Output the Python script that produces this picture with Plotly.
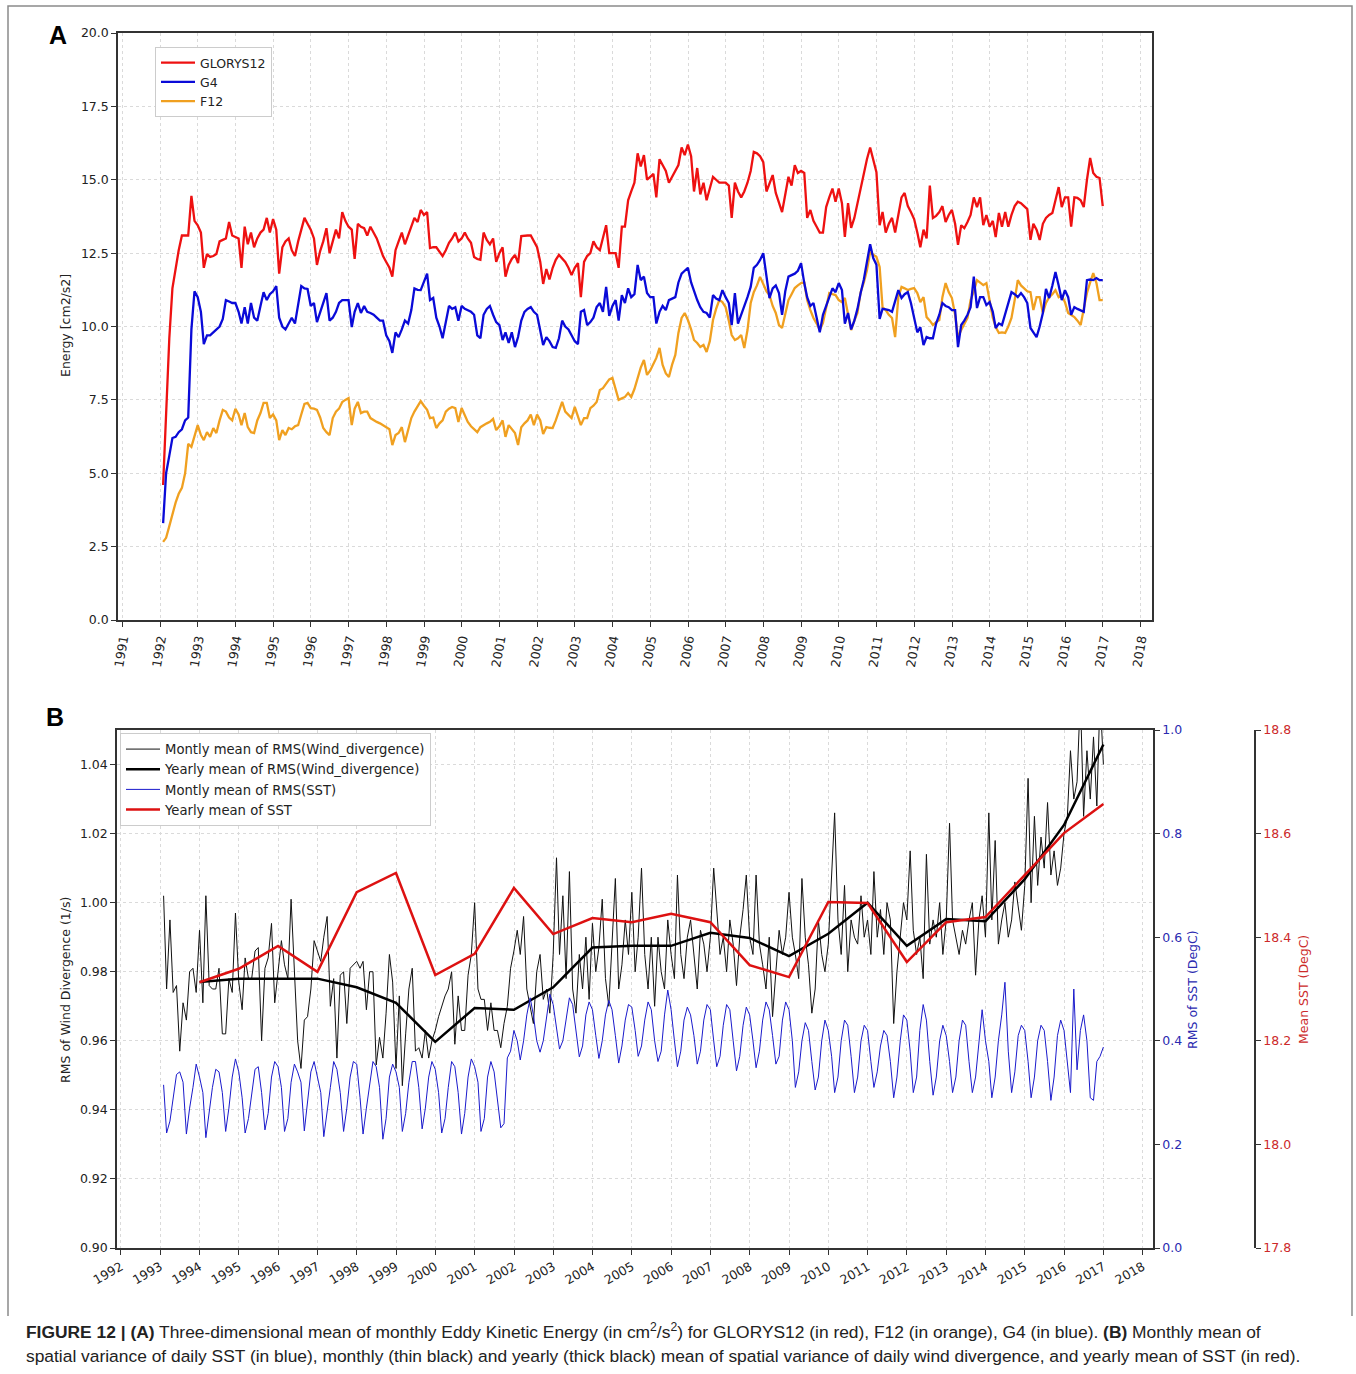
import pandas as pd
import plotly.graph_objects as go

W, H = 1356, 1374

# ---------------- Panel A: monthly Eddy Kinetic Energy (cm2/s2), Jan 1992 - Dec 2016
ekeglorys12 = [
    4.6, 7.0, 9.6, 11.3, 12.0, 12.6, 13.1, 13.1, 13.1, 14.45, 13.6, 13.45,
    13.2, 12.0, 12.47, 12.37, 12.4, 12.47, 12.9, 12.95, 13.0, 13.56, 13.1, 13.05,
    13.0, 12.0, 13.4, 12.8, 13.2, 12.7, 13.0, 13.2, 13.3, 13.7, 13.2, 13.66,
    13.3, 11.8, 12.7, 12.9, 13.0, 12.6, 12.4, 12.9, 13.3, 13.7, 13.5, 13.3,
    13.0, 12.1, 12.57, 12.9, 13.35, 12.5, 12.9, 13.3, 13.0, 13.9, 13.6, 13.4,
    13.3, 12.3, 13.5, 13.4, 13.35, 13.1, 13.4, 13.2, 13.0, 12.7, 12.4, 12.2,
    12.0, 11.7, 12.6, 12.9, 13.2, 12.8, 13.1, 13.46, 13.7, 13.56, 13.97, 13.8,
    13.9, 12.67, 12.7, 12.7, 12.55, 12.4, 12.6, 12.85, 13.0, 13.2, 12.9, 13.0,
    13.2, 13.0, 12.85, 12.37, 12.3, 12.27, 13.2, 12.95, 12.8, 13.0, 12.2, 12.5,
    12.7, 11.7, 12.1, 12.3, 12.44, 12.16, 13.08, 13.1, 13.1, 13.1, 12.9, 12.7,
    12.2, 11.45, 11.96, 11.6, 12.0, 12.27, 12.44, 12.3, 12.2, 12.0, 11.75, 12.0,
    12.16, 11.0, 12.2, 12.4, 12.5, 12.9, 12.7, 12.6, 13.0, 13.45, 12.5, 12.5,
    12.5, 12.0, 13.4, 13.4, 14.3, 14.6, 14.9, 15.9, 15.45, 15.84, 15.0, 15.1,
    15.2, 14.4, 15.7, 15.5, 15.3, 14.9, 15.1, 15.3, 15.5, 16.1, 15.84, 16.2,
    15.8, 14.6, 15.4, 14.5, 14.9, 14.3, 14.7, 15.1, 15.0, 14.9, 14.9, 14.9,
    14.8, 13.7, 14.9, 14.6, 14.4, 14.6, 14.9, 15.3, 15.95, 15.9, 15.8, 15.6,
    14.6, 14.9, 15.16, 14.55, 14.2, 13.9, 14.5, 15.1, 14.8, 15.5, 15.23, 15.3,
    15.23, 13.7, 13.97, 13.6, 13.4, 13.2, 13.2, 14.07, 14.4, 14.7, 14.25, 14.7,
    14.2, 13.05, 14.2, 13.36, 13.7, 14.2, 14.7, 15.2, 15.7, 16.1, 15.7, 15.26,
    13.45, 13.9, 13.2, 13.5, 13.7, 13.2, 13.8, 14.4, 14.55, 14.1, 13.9, 13.66,
    13.2, 12.7, 13.3, 13.0, 14.8, 13.7, 13.77, 13.9, 14.1, 13.56, 13.8, 13.97,
    13.5, 12.78, 13.45, 13.35, 13.56, 13.8, 14.4, 14.07, 14.4, 13.45, 13.8, 13.4,
    13.6, 13.05, 13.87, 13.4, 13.9, 13.4, 13.8, 14.1, 14.25, 14.2, 14.1, 14.0,
    12.95, 13.5, 13.3, 12.95, 13.5, 13.7, 13.8, 13.87, 14.3, 14.75, 14.07, 14.4,
    14.4, 13.4, 14.4, 14.38, 14.3, 14.07, 15.0, 15.74, 15.23, 15.1, 15.06, 14.1,
]

eke_g4 = [
    3.3, 5.0, 5.6, 6.2, 6.24, 6.4, 6.5, 6.8, 6.9, 9.9, 11.2, 11.0,
    10.5, 9.4, 9.7, 9.7, 9.8, 9.9, 10.0, 10.26, 10.9, 10.85, 10.8, 10.8,
    10.5, 10.1, 10.66, 10.1, 10.8, 10.3, 10.2, 10.7, 11.17, 10.9, 11.1, 11.2,
    11.38, 10.3, 10.0, 9.9, 10.1, 10.3, 10.1, 10.8, 11.38, 11.3, 11.28, 10.7,
    10.8, 10.15, 10.5, 10.8, 11.14, 10.2, 10.3, 10.5, 10.8, 10.9, 10.9, 10.9,
    9.98, 10.5, 10.8, 10.46, 10.7, 10.5, 10.46, 10.4, 10.3, 10.2, 10.2, 9.7,
    9.5, 9.1, 9.8, 9.64, 9.9, 10.2, 10.1, 10.56, 11.3, 11.25, 11.24, 11.5,
    11.8, 10.9, 10.97, 10.3, 10.0, 9.6, 10.2, 10.7, 10.6, 10.66, 10.2, 10.7,
    10.6, 10.56, 10.5, 10.4, 9.7, 9.6, 10.4, 10.6, 10.7, 10.4, 10.15, 10.05,
    9.54, 9.8, 9.44, 9.8, 9.3, 9.64, 10.2, 10.5, 10.6, 10.66, 10.5, 10.4,
    9.9, 9.37, 9.64, 9.5, 9.3, 9.27, 9.6, 10.2, 10.0, 9.9, 9.7, 9.5,
    9.4, 10.5, 10.56, 10.05, 10.15, 10.3, 10.66, 10.8, 10.5, 11.35, 10.36, 10.7,
    10.9, 10.2, 11.07, 10.8, 11.3, 11.0, 11.1, 12.1, 11.58, 11.7, 11.14, 11.0,
    11.0, 10.1, 10.5, 10.7, 10.56, 10.9, 10.95, 11.0, 11.5, 11.8, 11.9, 12.0,
    11.5, 11.2, 10.9, 10.66, 10.5, 10.46, 10.3, 11.07, 10.95, 10.9, 11.24, 11.0,
    10.8, 10.05, 11.14, 10.1, 10.4, 10.66, 11.0, 11.35, 12.0, 12.1, 12.27, 12.5,
    11.75, 10.97, 11.3, 11.4, 11.14, 10.4, 11.2, 11.7, 11.75, 11.8, 11.9, 12.16,
    11.48, 11.0, 10.7, 10.8, 10.3, 9.8, 10.4, 10.7, 11.0, 11.3, 11.17, 11.48,
    11.24, 10.1, 10.46, 9.9, 10.2, 10.6, 11.14, 11.6, 12.2, 12.8, 12.33, 12.1,
    10.26, 10.6, 10.58, 10.56, 10.5, 10.9, 11.24, 10.97, 11.1, 11.17, 10.8, 10.3,
    9.8, 9.98, 9.37, 9.64, 9.6, 9.6, 10.1, 10.4, 10.8, 10.7, 10.66, 10.56,
    10.56, 9.3, 10.05, 10.2, 10.4, 10.66, 11.7, 10.63, 11.0, 11.0, 10.73, 10.83,
    10.5, 9.95, 10.1, 10.05, 10.4, 10.8, 11.17, 11.1, 11.0, 11.14, 11.0, 10.8,
    9.95, 9.8, 9.64, 10.0, 10.46, 11.28, 10.97, 11.4, 11.86, 11.4, 10.9, 11.24,
    11.0, 10.4, 10.66, 10.6, 10.56, 10.5, 11.58, 11.6, 11.58, 11.65, 11.58, 11.58,
]

eke_f12 = [
    2.66, 2.8, 3.2, 3.6, 4.0, 4.3, 4.5, 5.0, 6.0, 5.9, 6.3, 6.64,
    6.3, 6.13, 6.4, 6.24, 6.54, 6.37, 6.8, 7.16, 7.1, 6.9, 6.8, 7.2,
    7.0, 6.64, 7.05, 6.57, 6.4, 6.37, 6.8, 7.05, 7.4, 7.4, 6.88, 7.0,
    6.8, 6.13, 6.47, 6.3, 6.54, 6.5, 6.6, 6.64, 7.0, 7.36, 7.4, 7.22,
    7.2, 7.16, 6.9, 6.54, 6.4, 6.3, 6.88, 7.1, 7.2, 7.43, 7.5, 7.56,
    6.64, 7.2, 7.43, 7.05, 7.1, 7.1, 6.88, 6.8, 6.75, 6.7, 6.64, 6.57,
    6.5, 5.96, 6.3, 6.37, 6.57, 6.06, 6.5, 6.88, 7.1, 7.3, 7.46, 7.3,
    7.16, 6.88, 6.9, 6.54, 6.7, 6.8, 7.1, 7.2, 7.26, 7.22, 6.75, 7.22,
    7.0, 6.75, 6.6, 6.5, 6.4, 6.57, 6.65, 6.7, 6.75, 6.85, 6.47, 6.6,
    6.8, 6.24, 6.64, 6.5, 6.37, 5.96, 6.57, 6.7, 6.8, 7.0, 6.64, 7.0,
    6.8, 6.34, 6.57, 6.55, 6.54, 6.8, 7.1, 7.43, 7.1, 7.0, 6.88, 7.26,
    6.9, 6.64, 6.88, 6.88, 7.22, 7.3, 7.43, 7.84, 7.9, 8.07, 8.2, 8.25,
    7.9, 7.5, 7.55, 7.6, 7.73, 7.6, 7.87, 8.28, 8.6, 8.86, 8.35, 8.5,
    8.76, 8.93, 9.27, 8.69, 8.4, 8.28, 8.7, 9.03, 9.78, 10.29, 10.46, 10.22,
    9.9, 9.54, 9.44, 9.3, 9.37, 9.13, 9.5, 10.22, 10.6, 10.9, 10.83, 10.66,
    10.2, 9.71, 9.54, 9.6, 9.71, 9.27, 9.88, 10.8, 11.17, 11.4, 11.69, 11.41,
    11.2, 11.07, 10.7, 10.46, 10.05, 9.95, 10.46, 10.9, 11.1, 11.31, 11.4, 11.48,
    11.5, 10.9, 10.56, 10.29, 10.1, 9.88, 10.12, 10.6, 11.14, 11.1, 11.07, 10.9,
    10.83, 10.97, 10.4, 9.88, 10.2, 10.46, 11.17, 11.5, 11.92, 12.54, 12.45, 12.37,
    12.03, 10.66, 10.56, 10.4, 10.29, 9.64, 11.0, 11.35, 11.3, 11.24, 11.28, 11.31,
    11.14, 10.83, 11.0, 10.32, 10.2, 10.05, 10.15, 10.22, 11.0, 11.48, 11.17, 10.97,
    10.4, 9.64, 9.88, 10.1, 10.29, 10.9, 11.2, 11.58, 11.5, 11.41, 11.48, 10.9,
    10.3, 9.98, 9.78, 9.8, 9.78, 10.0, 10.29, 10.9, 11.58, 11.4, 11.31, 11.2,
    11.17, 10.56, 11.0, 11.0, 10.46, 10.8, 11.0, 11.1, 11.24, 11.0, 11.05, 10.83,
    10.46, 10.4, 10.32, 10.2, 10.05, 10.6, 11.14, 11.5, 11.82, 11.48, 10.9, 10.9,
]

# ---------------- Panel B: monthly series Jan 1993 - Dec 2016, yearly means 1993 - 2016
wind_div_monthly = [
    1.002, 0.975, 0.995, 0.974, 0.976, 0.957, 0.971, 0.966, 0.980, 0.981, 0.974, 0.992,
    0.971, 1.002, 0.976, 0.975, 0.975, 0.981, 0.962, 0.962, 0.978, 0.974, 0.997, 0.977,
    0.969, 0.984, 0.978, 0.978, 0.986, 0.987, 0.960, 0.981, 0.984, 0.994, 0.971, 0.980,
    0.989, 0.982, 0.978, 1.001, 0.978, 0.960, 0.952, 0.966, 0.967, 0.975, 0.989, 0.986,
    0.983, 0.990, 0.996, 0.970, 0.978, 0.955, 0.979, 0.980, 0.965, 0.981, 0.982, 0.983,
    0.981, 0.983, 0.969, 0.980, 0.980, 0.953, 0.961, 0.955, 0.968, 0.985, 0.977, 0.952,
    0.973, 0.947, 0.962, 0.975, 0.981, 0.957, 0.958, 0.955, 0.963, 0.955, 0.960, 0.963,
    0.967, 0.970, 0.973, 0.975, 0.980, 0.959, 0.973, 0.963, 0.963, 0.979, 0.985, 1.000,
    0.975, 0.972, 0.972, 0.963, 0.971, 0.963, 0.963, 0.958, 0.965, 0.970, 0.981, 0.986,
    0.992, 0.985, 0.996, 0.975, 0.970, 0.965, 0.980, 0.985, 0.972, 0.975, 0.968, 0.985,
    1.013, 0.985, 1.002, 0.978, 1.009, 0.975, 0.968, 0.985, 0.975, 0.990, 0.972, 0.994,
    0.980, 0.987, 1.001, 0.978, 0.970, 0.990, 1.007, 0.975, 0.982, 0.995, 0.985, 1.003,
    0.980, 0.990, 1.010, 0.985, 0.975, 0.990, 0.970, 0.990, 0.980, 0.975, 0.995, 0.985,
    0.978, 1.008, 0.985, 0.978, 0.990, 0.995, 0.985, 0.975, 0.992, 0.988, 0.980, 0.990,
    1.010, 0.999, 0.985, 0.990, 0.980, 0.995, 0.988, 0.976, 0.990, 0.998, 1.008, 0.990,
    0.985, 1.008, 0.988, 0.982, 0.975, 0.990, 0.967, 0.980, 0.992, 0.985, 0.990, 1.003,
    0.990, 0.985, 0.978, 1.007, 0.990, 0.982, 0.968, 0.975, 0.995, 0.985, 0.980, 0.988,
    1.010, 1.026, 0.995, 0.985, 1.005, 0.980, 0.995, 0.990, 0.988, 1.002, 0.990, 0.995,
    0.985, 1.009, 0.990, 0.998, 0.985, 1.000, 0.995, 0.965, 0.980, 0.990, 1.000, 0.995,
    1.015, 0.992, 0.985, 0.990, 0.978, 1.014, 0.988, 0.995, 0.990, 1.000, 0.985, 0.995,
    1.023, 0.995, 0.990, 0.985, 0.992, 0.988, 0.995, 1.000, 0.979, 0.995, 1.002, 0.990,
    1.026, 0.995, 1.018, 0.988, 0.995, 1.000, 0.990, 0.995, 1.006, 0.998, 0.992, 1.005,
    1.036, 1.000, 1.025, 1.005, 1.019, 1.010, 1.029, 1.008, 1.015, 1.005, 1.010, 1.020,
    1.025, 1.044, 1.030, 1.035, 1.060, 1.025, 1.044, 1.030, 1.048, 1.028, 1.060, 1.040,
]

rms_sst_monthly = [
    0.315, 0.222, 0.245, 0.29, 0.335, 0.34, 0.32, 0.22, 0.27, 0.31, 0.355, 0.33,
    0.30, 0.213, 0.26, 0.31, 0.345, 0.34, 0.30, 0.225, 0.27, 0.33, 0.365, 0.34,
    0.29, 0.222, 0.25, 0.30, 0.345, 0.35, 0.30, 0.228, 0.26, 0.33, 0.36, 0.35,
    0.31, 0.225, 0.25, 0.32, 0.355, 0.34, 0.32, 0.226, 0.28, 0.34, 0.36, 0.33,
    0.30, 0.215, 0.26, 0.31, 0.36, 0.345, 0.30, 0.225, 0.27, 0.33, 0.36, 0.355,
    0.29, 0.22, 0.27, 0.32, 0.36, 0.35, 0.31, 0.21, 0.25, 0.33, 0.355, 0.34,
    0.31, 0.225, 0.26, 0.32, 0.36, 0.36, 0.31, 0.23, 0.27, 0.33, 0.36, 0.345,
    0.30, 0.222, 0.25, 0.31, 0.36, 0.35, 0.30, 0.22, 0.26, 0.33, 0.365, 0.35,
    0.32, 0.225, 0.25, 0.33, 0.36, 0.34, 0.29, 0.232, 0.24, 0.367, 0.38, 0.42,
    0.40, 0.363, 0.40, 0.45, 0.483, 0.45, 0.40, 0.378, 0.40, 0.45, 0.49, 0.47,
    0.42, 0.384, 0.40, 0.44, 0.483, 0.47, 0.42, 0.369, 0.39, 0.45, 0.475, 0.46,
    0.41, 0.366, 0.40, 0.45, 0.478, 0.46, 0.41, 0.357, 0.39, 0.44, 0.47, 0.465,
    0.42, 0.37, 0.39, 0.44, 0.475, 0.46, 0.40, 0.36, 0.38, 0.45, 0.498, 0.46,
    0.40, 0.35, 0.38, 0.44, 0.465, 0.45, 0.41, 0.355, 0.38, 0.44, 0.47, 0.46,
    0.40, 0.35, 0.37, 0.43, 0.47, 0.46, 0.40, 0.342, 0.37, 0.43, 0.465, 0.45,
    0.40, 0.348, 0.38, 0.44, 0.475, 0.46, 0.41, 0.355, 0.37, 0.44, 0.475, 0.46,
    0.40, 0.31, 0.34, 0.40, 0.435, 0.42, 0.36, 0.305, 0.33, 0.40, 0.44, 0.42,
    0.37, 0.30, 0.33, 0.40, 0.44, 0.43, 0.37, 0.30, 0.33, 0.40, 0.43, 0.42,
    0.36, 0.31, 0.34, 0.39, 0.42, 0.41, 0.36, 0.29, 0.33, 0.40, 0.45, 0.44,
    0.38, 0.30, 0.33, 0.42, 0.47, 0.44, 0.36, 0.295, 0.33, 0.40, 0.43, 0.41,
    0.36, 0.30, 0.33, 0.40, 0.44, 0.43, 0.36, 0.30, 0.33, 0.40, 0.46, 0.40,
    0.36, 0.29, 0.33, 0.40, 0.45, 0.513, 0.38, 0.30, 0.34, 0.41, 0.43, 0.42,
    0.36, 0.29, 0.33, 0.40, 0.43, 0.42, 0.36, 0.285, 0.33, 0.41, 0.44, 0.42,
    0.36, 0.30, 0.50, 0.344, 0.42, 0.45, 0.40, 0.29, 0.285, 0.36, 0.37, 0.388,
]

wind_div_yearly = [0.977, 0.978, 0.978, 0.978, 0.9755, 0.971, 0.9597, 0.9695,
                   0.969, 0.9755, 0.987, 0.9875, 0.9875, 0.9913, 0.9898, 0.9845,
                   0.991, 1.000, 0.9875, 0.9953, 0.9946, 1.0068, 1.0225, 1.0458]

sst_yearly = [18.313, 18.339, 18.383, 18.333, 18.487, 18.524, 18.327, 18.368,
              18.495, 18.406, 18.437, 18.429, 18.445, 18.429, 18.346, 18.323,
              18.468, 18.466, 18.352, 18.429, 18.439, 18.52, 18.601, 18.657]

years_b = list(range(1993, 2017))

assert len(ekeglorys12) == len(eke_g4) == len(eke_f12) == 300
assert len(wind_div_monthly) == len(rms_sst_monthly) == 288
assert len(wind_div_yearly) == len(sst_yearly) == 24

months_a = pd.period_range("1992-01", "2016-12", freq="M").to_timestamp(how="end").normalize()
months_b = pd.period_range("1993-01", "2016-12", freq="M").to_timestamp(how="end").normalize()
yearly_b = pd.to_datetime([f"{y}-12-31" for y in years_b])


def px_x(p):
    return p / W


def px_y(p):
    return 1 - p / H


FONT = "DejaVu Sans"
TICKFONT = dict(family=FONT, size=12.5, color="#222222")
GRID = "#dadada"
SPINE = "#333333"
CAPTION_FONT = dict(family="Liberation Sans", size=17.4, color="#222222")

fig = go.Figure()

# Panel A lines
fig.add_trace(go.Scatter(x=months_a, y=ekeglorys12, mode="lines", name="GLORYS12",
                         line=dict(color="#ee1111", width=2.3), xaxis="x", yaxis="y",
                         legend="legend", legendrank=1))
fig.add_trace(go.Scatter(x=months_a, y=eke_f12, mode="lines", name="F12",
                         line=dict(color="#f0a020", width=2.3), xaxis="x", yaxis="y",
                         legend="legend", legendrank=3))
fig.add_trace(go.Scatter(x=months_a, y=eke_g4, mode="lines", name="G4",
                         line=dict(color="#0a0ad8", width=2.3), xaxis="x", yaxis="y",
                         legend="legend", legendrank=2))

# Panel B lines
fig.add_trace(go.Scatter(x=months_b, y=wind_div_monthly, mode="lines",
                         name="Montly mean of RMS(Wind_divergence)",
                         line=dict(color="#111111", width=1), xaxis="x2", yaxis="y2",
                         legend="legend2"))
fig.add_trace(go.Scatter(x=yearly_b, y=wind_div_yearly, mode="lines",
                         name="Yearly mean of RMS(Wind_divergence)",
                         line=dict(color="#000000", width=2.5), xaxis="x2", yaxis="y2",
                         legend="legend2"))
fig.add_trace(go.Scatter(x=months_b, y=rms_sst_monthly, mode="lines",
                         name="Montly mean of RMS(SST)",
                         line=dict(color="#1a1acc", width=1), xaxis="x2", yaxis="y3",
                         legend="legend2"))
fig.add_trace(go.Scatter(x=yearly_b, y=sst_yearly, mode="lines",
                         name="Yearly mean of SST",
                         line=dict(color="#dd1111", width=2.5), xaxis="x2", yaxis="y4",
                         legend="legend2"))

common_x = dict(type="date", dtick="M12", tickformat="%Y", showgrid=True, gridcolor=GRID,
                griddash="3px,3px", gridwidth=1, ticks="outside", ticklen=5, tickcolor=SPINE,
                showline=True, linecolor=SPINE, linewidth=1.5, mirror=True,
                tickfont=TICKFONT, automargin=False, zeroline=False)

fig.update_layout(
    width=W, height=H,
    margin=dict(l=0, r=0, t=0, b=0),
    paper_bgcolor="white", plot_bgcolor="white",
    font=dict(family=FONT, color="#222222"),
    xaxis=dict(common_x, domain=[px_x(118), px_x(1152)], anchor="y",
               range=["1990-11-20", "2018-04-22"], tick0="1991-01-01", tickangle=-80),
    yaxis=dict(domain=[px_y(620), px_y(33)], anchor="x", range=[0, 20], dtick=2.5,
               tickformat=".1f", showgrid=True, gridcolor=GRID, griddash="3px,3px",
               ticks="outside", ticklen=5, tickcolor=SPINE, showline=True, linecolor=SPINE,
               linewidth=1.5, mirror=True, tickfont=TICKFONT, automargin=False, zeroline=False),
    xaxis2=dict(common_x, domain=[px_x(117), px_x(1153)], anchor="y2",
                range=["1991-11-25", "2018-04-06"], tick0="1992-01-01", tickangle=-30),
    yaxis2=dict(domain=[px_y(1248), px_y(730)], anchor="x2", range=[0.90, 1.05], dtick=0.02,
                tick0=0.90, tickformat=".2f", showgrid=True, gridcolor=GRID, griddash="3px,3px",
                ticks="outside", ticklen=5, tickcolor=SPINE, showline=True, linecolor=SPINE,
                linewidth=1.5, mirror=True, tickfont=TICKFONT, automargin=False, zeroline=False),
    yaxis3=dict(overlaying="y2", side="right", anchor="x2", range=[0, 1], dtick=0.2,
                tickformat=".1f", showgrid=False, ticks="outside", ticklen=5, tickcolor=SPINE,
                showline=True, linecolor=SPINE, linewidth=1.5,
                tickfont=dict(family=FONT, size=12.5, color="#2a2ab0"),
                automargin=False, zeroline=False),
    yaxis4=dict(overlaying="y2", side="right", anchor="free", position=px_x(1255),
                range=[17.8, 18.8], dtick=0.2, tick0=17.8, tickformat=".1f", showgrid=False,
                ticks="outside", ticklen=5, tickcolor=SPINE, showline=True, linecolor=SPINE,
                linewidth=1.5, tickfont=dict(family=FONT, size=12.5, color="#cc2a2a"),
                automargin=False, zeroline=False),
    legend=dict(x=px_x(155), y=px_y(47), xanchor="left", yanchor="top",
                bgcolor="white", bordercolor="#cccccc", borderwidth=1,
                font=dict(family=FONT, size=12.5, color="#222222"),
                traceorder="normal", itemwidth=34, tracegroupgap=0),
    legend2=dict(x=px_x(120), y=px_y(733), xanchor="left", yanchor="top",
                 bgcolor="white", bordercolor="#cccccc", borderwidth=1,
                 font=dict(family=FONT, size=13.2, color="#222222"),
                 traceorder="normal", itemwidth=34, tracegroupgap=0),
    showlegend=True,
)

annotations = [
    dict(text="<b>A</b>", x=px_x(58), y=px_y(35), font=dict(family="Liberation Sans", size=25, color="black")),
    dict(text="<b>B</b>", x=px_x(55), y=px_y(717), font=dict(family="Liberation Sans", size=25, color="black")),
    dict(text="Energy [cm2/s2]", x=px_x(65), y=px_y(326), textangle=-90,
         font=dict(family=FONT, size=12.5, color="#222222")),
    dict(text="RMS of Wind Divergence (1/s)", x=px_x(65), y=px_y(990), textangle=-90,
         font=dict(family=FONT, size=12.5, color="#222222")),
    dict(text="RMS of SST (DegC)", x=px_x(1192), y=px_y(990), textangle=-90,
         font=dict(family=FONT, size=12.5, color="#2a2ab0")),
    dict(text="Mean SST (DegC)", x=px_x(1303), y=px_y(990), textangle=-90,
         font=dict(family=FONT, size=12.5, color="#cc2a2a")),
    dict(text="<b>FIGURE 12 | (A)</b> Three-dimensional mean of monthly Eddy Kinetic Energy "
              "(in cm<sup>2</sup>/s<sup>2</sup>) for GLORYS12 (in red), F12 (in orange), "
              "G4 (in blue). <b>(B)</b> Monthly mean of",
         x=px_x(24), y=px_y(1331), xanchor="left", font=CAPTION_FONT),
    dict(text="spatial variance of daily SST (in blue), monthly (thin black) and yearly "
              "(thick black) mean of spatial variance of daily wind divergence, and yearly "
              "mean of SST (in red).",
         x=px_x(24), y=px_y(1356), xanchor="left", font=CAPTION_FONT),
]
for a in annotations:
    a.setdefault("xanchor", "center")
    a.update(xref="paper", yref="paper", yanchor="middle", showarrow=False)
fig.update_layout(annotations=annotations)

# outer frame around both panels
fig.add_shape(type="path", xref="paper", yref="paper",
              path=f"M {px_x(8)},{px_y(1316)} L {px_x(8)},{px_y(6)} "
                   f"L {px_x(1352)},{px_y(6)} L {px_x(1352)},{px_y(1316)}",
              line=dict(color="#8a8a8a", width=1.5))

fig.write_html("out.html")
